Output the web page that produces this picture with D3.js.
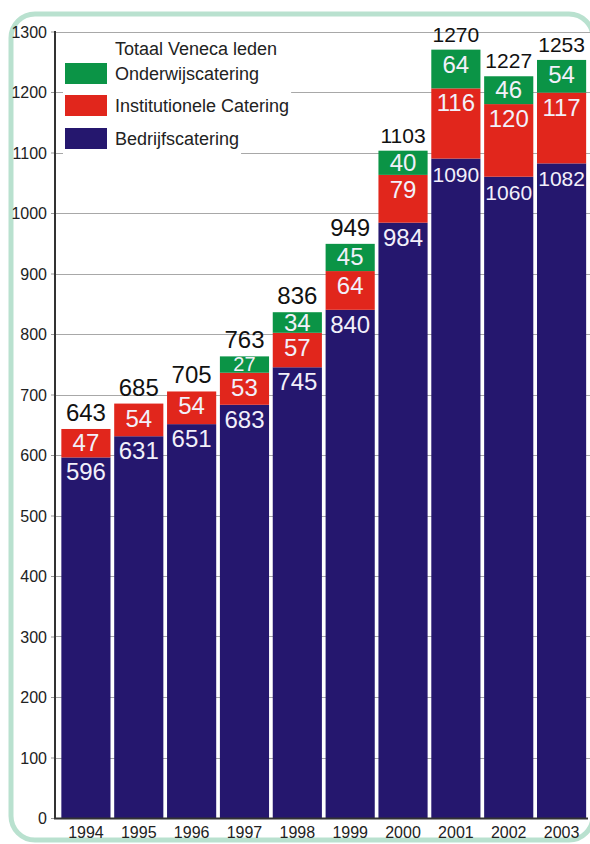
<!DOCTYPE html>
<html>
<head>
<meta charset="utf-8">
<script src="https://cdn.jsdelivr.net/npm/d3@7"></script>
<style>
  html, body { margin: 0; padding: 0; background: #fff; }
  svg { display: block; font-family: "Liberation Sans", Arial, Helvetica, sans-serif; }
</style>
</head>
<body>
<svg id="chart" width="590" height="844"></svg>
<script>
// ---- data ----
const years = ["1994","1995","1996","1997","1998","1999","2000","2001","2002","2003"];
const bedrijf = [596, 631, 651, 683, 745, 840, 984, 1090, 1060, 1082];
const institutioneel = [47, 54, 54, 53, 57, 64, 79, 116, 120, 117];
const onderwijs = [0, 0, 0, 27, 34, 45, 40, 64, 46, 54];
const totals = [643, 685, 705, 763, 836, 949, 1103, 1270, 1227, 1253];
const yTicks = [0, 100, 200, 300, 400, 500, 600, 700, 800, 900, 1000, 1100, 1200, 1300];
const seriesKeys = ["bedrijf", "institutioneel", "onderwijs"];
const seriesNames = ["Bedrijfscatering", "Institutionele Catering", "Onderwijscatering"];
const legendTitle = "Totaal Veneca leden";

// ---- styles ----
const FONT = '"Liberation Sans", Arial, Helvetica, sans-serif';
const colors = { bedrijf: "#25176e", institutioneel: "#e1261c", onderwijs: "#0b9446" };

const svg = d3.select("#chart").attr("font-family", FONT);

// frame
svg.append("rect")
  .attr("x", 11).attr("y", 14).attr("width", 582).attr("height", 826)
  .attr("rx", 24).attr("ry", 24)
  .attr("fill", "#fff").attr("stroke", "#b9e1cf").attr("stroke-width", 5);

const x = d3.scaleBand().domain(years).range([59.5, 588]).paddingInner(0.07).paddingOuter(0.035);
const y = d3.scaleLinear().domain([0, 1300]).range([818, 31.5]);

const rows = years.map((yr, i) => ({
  year: yr, bedrijf: bedrijf[i], institutioneel: institutioneel[i], onderwijs: onderwijs[i], total: totals[i]
}));
const stacked = d3.stack().keys(seriesKeys)(rows);

// gridlines
svg.append("g").selectAll("line").data(yTicks.filter(d => d > 0)).join("line")
  .attr("x1", 55).attr("x2", 590)
  .attr("y1", d => Math.round(y(d)) + 0.5).attr("y2", d => Math.round(y(d)) + 0.5)
  .attr("stroke", "#a8a8a8").attr("stroke-width", 1);

// y axis
const yAxis = svg.append("g").attr("transform", "translate(55,0)")
  .call(d3.axisLeft(y).tickValues(yTicks).tickSize(4).tickPadding(4).tickFormat(d3.format("d")))
  .attr("font-family", FONT);
yAxis.select(".domain").remove();
yAxis.selectAll(".tick line").attr("stroke", "#999");
yAxis.selectAll(".tick text").attr("font-size", 16).attr("fill", "#222").attr("dy", "0.36em");

// bars
const layer = svg.append("g");
stacked.forEach(s => {
  layer.append("g").selectAll("rect").data(s).join("rect")
    .attr("x", d => x(d.data.year))
    .attr("width", x.bandwidth())
    .attr("y", d => y(d[1]))
    .attr("height", d => Math.max(0, y(d[0]) - y(d[1])))
    .attr("fill", colors[s.key]);
});

// axis lines
svg.append("line").attr("x1", 55).attr("x2", 55).attr("y1", 31).attr("y2", 819)
  .attr("stroke", "#333").attr("stroke-width", 2);
svg.append("line").attr("x1", 54).attr("x2", 588).attr("y1", 818.5).attr("y2", 818.5)
  .attr("stroke", "#333").attr("stroke-width", 2);

// x labels
svg.append("g").selectAll("text").data(years).join("text")
  .attr("x", d => x(d) + x.bandwidth() / 2)
  .attr("y", 838)
  .attr("text-anchor", "middle")
  .attr("font-size", 16).attr("fill", "#222")
  .text(d => d);

// segment labels
stacked.forEach(s => {
  svg.append("g").selectAll("text").data(s.filter(d => d.data[s.key] > 0)).join("text")
    .attr("x", d => x(d.data.year) + x.bandwidth() / 2)
    .attr("y", d => {
      const top = y(d[1]), bot = y(d[0]);
      return (bot - top) < 20 ? bot - 2 : Math.min(top + 23, (top + bot) / 2 + 8);
    })
    .attr("text-anchor", "middle")
    .attr("font-size", d => {
      const h = y(d[0]) - y(d[1]);
      if (h < 20) return 20;
      return String(d.data[s.key]).length >= 4 ? 21 : 24;
    })
    .attr("fill", "#f2f0fa")
    .text(d => d.data[s.key]);
});

// totals
svg.append("g").selectAll("text").data(rows).join("text")
  .attr("x", d => x(d.year) + x.bandwidth() / 2)
  .attr("y", (d, i) => y(d3.max(stacked, s => s[i][1])) - 8)
  .attr("text-anchor", "middle")
  .attr("font-size", d => String(d.total).length >= 4 ? 21 : 24)
  .attr("fill", "#111")
  .text(d => d.total);

// legend
const legend = svg.append("g");
legend.append("text").attr("x", 115).attr("y", 55).attr("font-size", 18).attr("fill", "#222").text(legendTitle);
const legendItems = [
  { key: "onderwijs", name: seriesNames[2], y: 63 },
  { key: "institutioneel", name: seriesNames[1], y: 95 },
  { key: "bedrijf", name: seriesNames[0], y: 128 }
];
legendItems.forEach(it => {
  const g = legend.append("g");
  const bg = g.append("rect").attr("fill", "#fff");
  g.append("rect").attr("x", 65).attr("y", it.y).attr("width", 42).attr("height", 21).attr("fill", colors[it.key]);
  const t = g.append("text").attr("x", 115).attr("y", it.y + 17).attr("font-size", 18).attr("fill", "#222").text(it.name);
  const w = t.node().getComputedTextLength();
  bg.attr("x", 63).attr("y", it.y - 5).attr("width", 115 + w + 2 - 63).attr("height", 31);
});
</script>
</body>
</html>
